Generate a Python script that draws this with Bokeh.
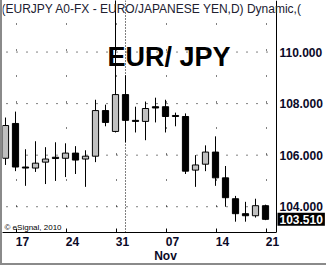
import pandas as pd
from bokeh.plotting import figure
from bokeh.models import Range1d, FixedTicker, Span, Label, ColumnDataSource
from bokeh.embed import file_html
from bokeh.resources import INLINE

# ---- data ----
dates = ["2010-10-14", "2010-10-15", "2010-10-18", "2010-10-19", "2010-10-20",
         "2010-10-21", "2010-10-22", "2010-10-25", "2010-10-26", "2010-10-27",
         "2010-10-28", "2010-10-29", "2010-11-01", "2010-11-02", "2010-11-03",
         "2010-11-04", "2010-11-05", "2010-11-08", "2010-11-09", "2010-11-10",
         "2010-11-11", "2010-11-12", "2010-11-15", "2010-11-16", "2010-11-17",
         "2010-11-18", "2010-11-19"]
opens = [105.88, 107.23, 105.54, 105.50, 105.73, 105.92, 105.88, 106.08, 105.85,
         105.96, 107.73, 106.92, 108.35, 107.35, 107.31, 107.88, 107.88, 107.54,
         107.50, 105.42, 105.65, 106.12, 105.12, 104.31, 103.73, 103.65, 104.04]
highs = [107.46, 107.69, 106.23, 106.54, 106.31, 106.50, 106.46, 106.35, 106.19,
         108.15, 107.96, 112.50, 109.10, 107.88, 108.08, 108.23, 108.15, 107.65,
         107.62, 106.00, 106.38, 106.73, 105.58, 104.42, 104.19, 104.31, 104.08]
lows = [105.62, 105.38, 104.81, 105.35, 104.88, 105.00, 105.15, 105.27, 104.77,
        105.73, 107.12, 106.88, 106.50, 106.88, 106.58, 107.27, 106.88, 107.12,
        105.27, 104.77, 105.38, 104.81, 104.00, 103.42, 103.42, 103.58, 103.48]
closes = [107.15, 105.54, 105.50, 105.69, 105.85, 105.87, 106.08, 105.81, 105.96,
          107.73, 107.27, 108.35, 107.35, 107.31, 107.81, 107.83, 107.50, 107.50,
          105.38, 105.62, 106.12, 105.12, 104.35, 103.73, 103.65, 104.04, 103.51]
week_labels = ["17", "24", "31", "07", "14", "21"]
month_label = "Nov"
price_ticks = [104, 106, 108, 110]
last_price = 103.51
header_text = "(EURJPY A0-FX - EURO/JAPANESE YEN,D) Dynamic,("
big_title = "EUR/ JPY"
credit_text = "\u00a9 eSignal, 2010"

# ---- derived ----
dt = pd.to_datetime(dates)
idx = list(range(len(dates)))
fridays = [i for i, d in enumerate(dt) if d.dayofweek == 4]
label_pos = [f + 0.7 for f in fridays]
grid_pos = [f + 0.1 for f in fridays]
month_start = [i for i in idx[1:] if dt[i].month != dt[i - 1].month][0]

up = [c >= o for o, c in zip(opens, closes)]
src = ColumnDataSource(dict(
    x=idx, high=highs, low=lows,
    top=[max(o, c) for o, c in zip(opens, closes)],
    bottom=[min(o, c) for o, c in zip(opens, closes)],
    fill=["#c0c0c0" if u else "black" for u in up],
))

FONT = "Liberation Sans"
INK = "#0a0a28"
Y0, Y1 = 103, 112
X0 = -0.3
PRICE_AXIS_X = len(dates) + 0.1      # price scale sits just right of the last bar
W, H = 326, 265
X1 = X0 + W / 10.0                    # 10 px per trading day

p = figure(width=W, height=H, output_backend="svg", toolbar_location=None,
           x_range=Range1d(X0, X1), y_range=Range1d(Y0, Y1),
           y_axis_location="right", min_border_left=0, min_border_right=0,
           min_border_top=0, min_border_bottom=31)
p.styles = {"border-left": "2px solid #8a8a8a", "border-bottom": "2px solid #8a8a8a"}
p.outline_line_color = None
p.background_fill_color = "white"
p.border_fill_color = "white"

# vertical weekly grid: dots at every price unit
p.xgrid.ticker = FixedTicker(ticks=grid_pos)
p.xgrid.grid_line_color = "black"
p.xgrid.grid_line_dash = "1 25"
p.ygrid.visible = False
# horizontal dotted rows at labelled prices, stopping at the price scale
p.segment(x0=[X0] * len(price_ticks), x1=[PRICE_AXIS_X] * len(price_ticks),
          y0=price_ticks, y1=price_ticks, line_color="black", line_width=1,
          line_dash="1 9", line_dash_offset=6)

p.add_layout(Span(location=month_start, dimension="height", line_color="black",
                  line_dash="1 2", line_width=1))

# x axis
xa = p.xaxis[0]
xa.ticker = FixedTicker(ticks=label_pos)
xa.bounds = (X0 - 1, PRICE_AXIS_X)
xa.major_label_overrides = {pos: lab for pos, lab in zip(label_pos, week_labels)}
xa.major_tick_in = 0
xa.major_tick_out = 0
xa.minor_tick_line_color = None
xa.axis_line_color = "black"
xa.major_label_text_font = FONT
xa.major_label_text_font_style = "bold"
xa.major_label_text_font_size = "12px"
xa.major_label_text_color = INK
xa.major_label_standoff = 4
xa.axis_label = month_label
xa.axis_label_text_font = FONT
xa.axis_label_text_font_style = "bold"
xa.axis_label_text_font_size = "12px"
xa.axis_label_text_color = INK
xa.axis_label_standoff = 0

# y axis (right), pinned at the price-scale position
ya = p.yaxis[0]
ya.fixed_location = PRICE_AXIS_X
ya.ticker = FixedTicker(ticks=price_ticks)
ya.major_label_overrides = {t: f"{t:.3f}" for t in price_ticks}
ya.major_tick_in = 0
ya.major_tick_out = 0
ya.minor_tick_line_color = None
ya.axis_line_color = "black"
ya.major_label_text_font = FONT
ya.major_label_text_font_style = "bold"
ya.major_label_text_font_size = "12px"
ya.major_label_text_color = INK
ya.major_label_standoff = 3

# weekly tick marks on the bottom axis
p.segment(x0=grid_pos, x1=grid_pos, y0=[Y0] * len(grid_pos),
          y1=[Y0 + 4 / 26] * len(grid_pos), line_color="black", line_width=1)

# candles
p.segment(x0="x", x1="x", y0="low", y1="high", source=src, line_color="black", line_width=1)
p.vbar(x="x", width=0.62, top="top", bottom="bottom", source=src,
       fill_color="fill", line_color="black", line_width=1)

# texts
p.add_layout(Label(x=X0, y=Y1, x_offset=-1, y_offset=-1, text=header_text,
                   text_font=FONT, text_font_size="12px", text_color="#202030",
                   text_baseline="top", text_align="left"))
p.add_layout(Label(x=16.35, y=109.81, text=big_title, text_font=FONT,
                   text_font_style="bold", text_font_size="27px", text_color="black",
                   text_align="center", text_baseline="alphabetic"))
p.add_layout(Label(x=-0.1, y=103.19, text=credit_text, text_font=FONT,
                   text_font_size="8px", text_color="black",
                   text_align="left", text_baseline="alphabetic"))
p.add_layout(Label(x=PRICE_AXIS_X, y=last_price, x_offset=1, text=f"{last_price:.3f}",
                   text_font=FONT, text_font_style="bold", text_font_size="12px",
                   text_color="white", background_fill_color="black",
                   text_align="left", text_baseline="middle", padding=2))

open("out.html", "w").write(file_html(p, INLINE))
